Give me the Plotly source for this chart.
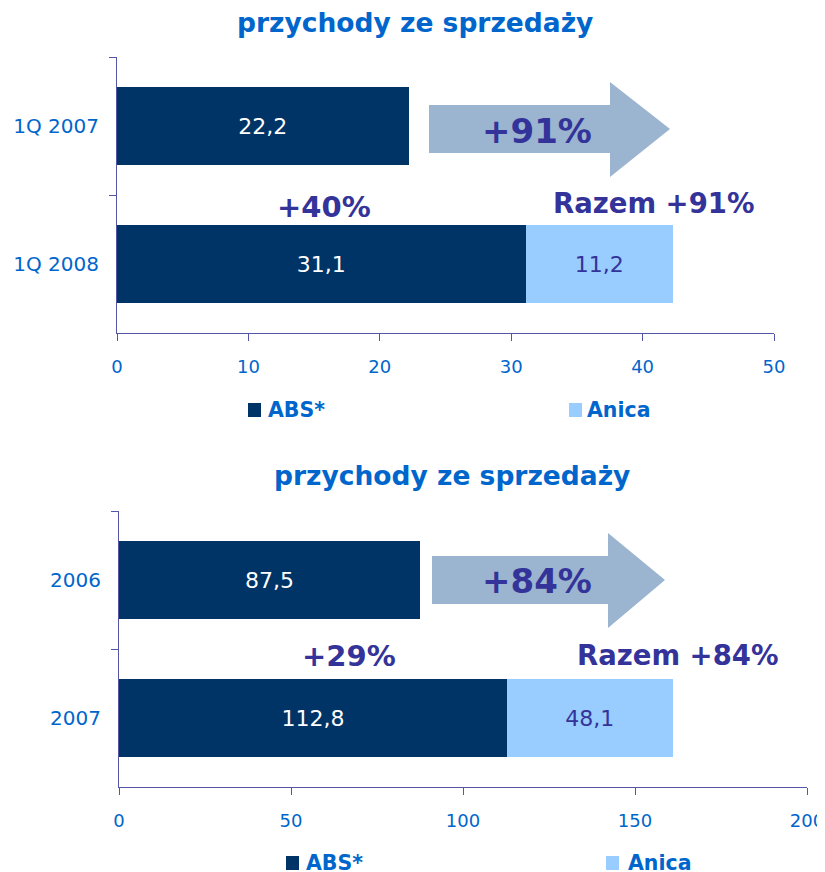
import plotly.graph_objects as go

# dane - przychody ze sprzedazy
top_categories = ["1Q 2007", "1Q 2008"]
top_abs = [22.2, 31.1]
top_anica = [None, 11.2]
top_ticks = [0, 10, 20, 30, 40, 50]

bottom_categories = ["2006", "2007"]
bottom_abs = [87.5, 112.8]
bottom_anica = [None, 48.1]
bottom_ticks = [0, 50, 100, 150, 200]

title_text = "przychody ze sprzedaży"
series_names = ["ABS*", "Anica"]
top_labels = ["+91%", "+40%", "Razem +91%"]
bottom_labels = ["+84%", "+29%", "Razem +84%"]

OFF = 8  # margines strony w przegladarce
W, H = 825 - OFF, 872 - OFF
DARK = "#003366"
LIGHT = "#99CCFF"
BLUE = "#0066CC"
PURPLE = "#333399"
AXIS = "#5555A5"
ARROW = "#9BB4CF"
FONT = "DejaVu Sans"


def px(x):
    return (x - OFF) / W


def py(y):
    return 1 - (y - OFF) / H


def arrow_path(left, top, bottom, head_x, head_top, head_bottom, tip):
    mid = (top + bottom) / 2
    pts = [(left, top), (head_x, top), (head_x, head_top), (tip, mid),
           (head_x, head_bottom), (head_x, bottom), (left, bottom)]
    return "M " + " L ".join(f"{px(a):.5f},{py(b):.5f}" for a, b in pts) + " Z"


fig = go.Figure()

for cats, abs_v, anica_v, xa, ya in [
    (top_categories, top_abs, top_anica, "x", "y"),
    (bottom_categories, bottom_abs, bottom_anica, "x2", "y2"),
]:
    fig.add_trace(go.Bar(
        y=cats, x=abs_v, orientation="h", name=series_names[0],
        marker=dict(color=DARK, line=dict(width=0)),
        texttemplate="%{x:.1f}", textposition="inside", insidetextanchor="middle",
        insidetextfont=dict(family=FONT, size=22, color="white"),
        xaxis=xa, yaxis=ya, showlegend=False, hoverinfo="skip",
    ))
    fig.add_trace(go.Bar(
        y=cats, x=anica_v, orientation="h", name=series_names[1],
        marker=dict(color=LIGHT, line=dict(width=0)),
        texttemplate="%{x:.1f}", textposition="inside", insidetextanchor="middle",
        insidetextfont=dict(family=FONT, size=22, color=PURPLE),
        xaxis=xa, yaxis=ya, showlegend=False, hoverinfo="skip",
    ))

axis_common = dict(
    showgrid=False, zeroline=False, showline=True, linecolor=AXIS, linewidth=1,
    ticks="outside", ticklen=7, tickcolor=AXIS, tickwidth=1, automargin=False,
)
xfont = dict(family=FONT, size=18, color=BLUE)
yfont = dict(family=FONT, size=20, color=BLUE)

fig.update_layout(
    width=W, height=H, autosize=False,
    margin=dict(l=0, r=0, t=0, b=0),
    paper_bgcolor="white", plot_bgcolor="white",
    barmode="stack", bargap=0.435, separators=",.",
    xaxis=dict(domain=[px(117), px(774)], range=[0, 50], tickvals=top_ticks,
               anchor="y", ticklabelstandoff=10, tickfont=xfont, **axis_common),
    yaxis=dict(domain=[py(333), py(57)], autorange="reversed", type="category",
               tickson="boundaries", anchor="x", ticklabelstandoff=13,
               tickfont=yfont, **axis_common),
    xaxis2=dict(domain=[px(119), px(807)], range=[0, 200], tickvals=bottom_ticks,
                anchor="y2", ticklabelstandoff=10, tickfont=xfont, **axis_common),
    yaxis2=dict(domain=[py(787), py(511)], autorange="reversed", type="category",
                tickson="boundaries", anchor="x2", ticklabelstandoff=13,
                tickfont=yfont, **axis_common),
)

# strzalki
fig.add_shape(type="path", xref="paper", yref="paper",
              path=arrow_path(429, 105, 153, 610, 82, 177, 670),
              fillcolor=ARROW, line=dict(width=0), layer="below")
fig.add_shape(type="path", xref="paper", yref="paper",
              path=arrow_path(432, 556, 604, 608, 533, 628, 665),
              fillcolor=ARROW, line=dict(width=0), layer="below")


def note(text, x, y, size, color=PURPLE):
    fig.add_annotation(text=f"<b>{text}</b>", x=px(x), y=py(y), xref="paper", yref="paper",
                       xanchor="center", yanchor="middle", showarrow=False,
                       font=dict(family=FONT, size=size, color=color))


# tytuly
note(title_text, 415, 22, 26.5, BLUE)
note(title_text, 452, 475, 26.5, BLUE)

# opisy wzrostu
note(top_labels[0], 537, 131, 34)
note(top_labels[1], 324, 207, 29)
note(top_labels[2], 653, 203, 27.5)
note(bottom_labels[0], 537, 581, 34)
note(bottom_labels[1], 349, 656, 29)
note(bottom_labels[2], 677, 655, 27.5)

# legendy
for ly, positions in [(410, [(248, 266), (569, 585)]), (863, [(286, 304), (606, 626)])]:
    for (sq_x, tx), name, col in zip(positions, series_names, [DARK, LIGHT]):
        fig.add_shape(type="rect", xref="paper", yref="paper",
                      x0=px(sq_x), x1=px(sq_x + 13), y0=py(ly + 7), y1=py(ly - 7),
                      fillcolor=col, line=dict(width=0))
        fig.add_annotation(text=f"<b>{name}</b>", x=px(tx), y=py(ly), xref="paper", yref="paper",
                           xanchor="left", yanchor="middle", showarrow=False,
                           font=dict(family=FONT, size=20.5, color=BLUE))

fig.write_html("out.html")
